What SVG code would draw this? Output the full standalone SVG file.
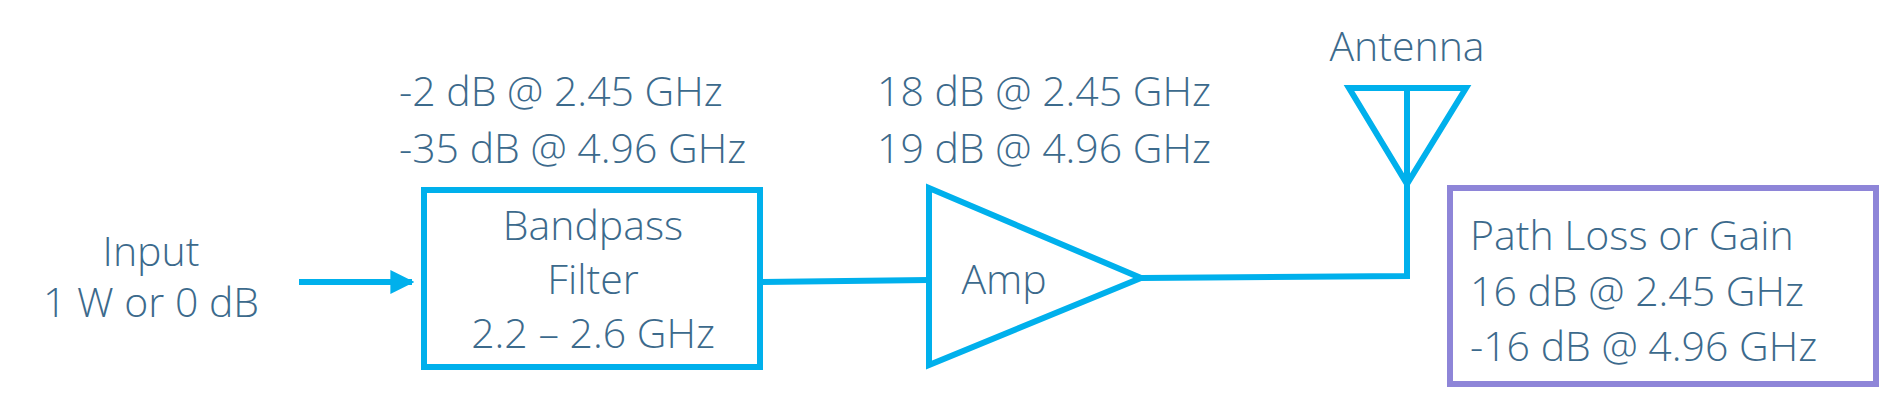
<svg xmlns="http://www.w3.org/2000/svg" width="1897" height="402" viewBox="0 0 1897 402">
<style>
text{font-family:"Open Sans","Noto Sans",sans-serif;font-size:41px;fill:#3c6a8c;font-weight:300}
.c{text-anchor:middle}
.s{fill:none;stroke:#00b0ec;stroke-width:6}
</style>
<defs><marker id="ah" markerWidth="6" markerHeight="6" refX="5" refY="3" orient="auto" markerUnits="userSpaceOnUse" viewBox="0 0 6 6"><path d="M0,0L6,3L0,6z" fill="#00b0ec"/></marker>
<marker id="a" viewBox="0 0 10 10" refX="9" refY="5" markerWidth="4" markerHeight="4" orient="auto"><path d="M0,0L10,5L0,10z" fill="#00b0ec"/></marker></defs>
<rect width="1897" height="402" fill="#fff"/>
<g id="input"><text class="c" x="151" y="266">Input</text><text class="c" x="151" y="317">1 W or 0 dB</text></g>
<g id="filter"><rect class="s" x="424" y="190" width="336" height="177"/>
<text class="c" x="593" y="240">Bandpass</text><text class="c" x="593" y="294">Filter</text><text class="c" x="593" y="348">2.2 – 2.6 GHz</text>
<text x="399" y="106">-2 dB @ 2.45 GHz</text><text x="399" y="163">-35 dB @ 4.96 GHz</text></g>
<g id="amp"><path class="s" d="M929,188L929,365L1141,278Z"/><text class="c" x="1004" y="294">Amp</text>
<text x="877" y="106">18 dB @ 2.45 GHz</text><text x="877" y="163">19 dB @ 4.96 GHz</text></g>
<g id="antenna"><path class="s" d="M1349,88L1466,88L1407,184ZM1407,88V184"/><text class="c" x="1407" y="61">Antenna</text></g>
<g id="path"><rect x="1450" y="188" width="426" height="196" fill="none" stroke="#8e85d8" stroke-width="6"/>
<text x="1470" y="250">Path Loss or Gain</text><text x="1470" y="306">16 dB @ 2.45 GHz</text><text x="1470" y="361">-16 dB @ 4.96 GHz</text></g>
<g id="connectors"><path class="s" d="M299,282H412" marker-end="url(#a)"/><path class="s" d="M760,282L929,280"/><path class="s" d="M1141,278L1407,276V184"/></g>
</svg>
